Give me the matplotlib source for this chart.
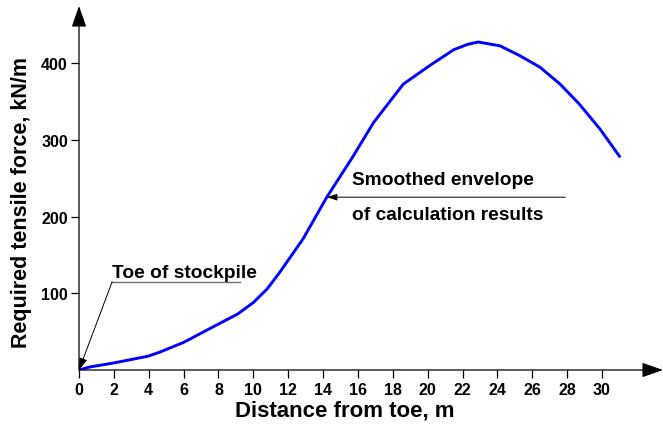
import matplotlib
matplotlib.use("Agg")
import matplotlib.pyplot as plt

plt.rcParams['font.family'] = ['Liberation Sans', 'DejaVu Sans']
plt.rcParams['font.weight'] = 'bold'

# smoothed envelope
distance = [0, 0.63, 1.95, 3.96, 4.6, 6.0, 8.0, 9.1, 10.0, 10.8, 11.5, 12.85, 14.2,
            15.7, 16.9, 18.6, 20.1, 21.5, 22.3, 22.9, 24.15, 25.3, 26.45, 27.6,
            28.7, 29.9, 31.0]
force = [0, 4, 9, 18, 23, 36, 60, 73, 88, 106, 127, 171, 225,
         278, 323, 373, 397, 418, 425, 428, 423, 410, 395, 373,
         347, 314, 279]

x_ticks = list(range(0, 31, 2))
y_ticks = [100, 200, 300, 400]

fig = plt.figure(figsize=(6.63, 4.27), dpi=100)
ax = fig.add_axes([79 / 663, 56 / 427, (663 - 79) / 663, (371 - 7) / 427])

ax.plot(distance, force, color='#0000ff', lw=2.1, solid_joinstyle='round')

ax.set_xlim(0, 33.5)
ax.set_ylim(0, 475)

for s in ax.spines.values():
    s.set_visible(False)

# axes drawn as arrows
head = dict(arrowstyle='-|>,head_length=1.0,head_width=0.35', color='k', lw=0.9,
            mutation_scale=13, shrinkA=0, shrinkB=0)
ax.annotate('', xy=(1, 0), xytext=(0, 0), xycoords='axes fraction', arrowprops=head,
            annotation_clip=False)
ax.annotate('', xy=(0, 1), xytext=(0, 0), xycoords='axes fraction', arrowprops=head,
            annotation_clip=False)

ax.set_xticks(x_ticks)
ax.set_yticks(y_ticks)
ax.tick_params(axis='both', direction='out', length=6, width=0.9, labelsize=11.5)
ax.tick_params(axis='x', pad=3)
ax.tick_params(axis='y', pad=2)
for lab in ax.get_xticklabels() + ax.get_yticklabels():
    lab.set_fontweight('bold')

fig.text(22 / 663, 1 - 203 / 427, 'Required tensile force, kN/m', rotation=90,
         ha='center', va='center', fontsize=15.5, fontweight='bold')
fig.text(345 / 663, 1 - 411 / 427, 'Distance from toe, m',
         ha='center', va='center', fontsize=16, fontweight='bold')

# toe annotation
ax.text(1.9, 121, 'Toe of stockpile', fontsize=13.8, fontweight='bold', va='baseline')
ax.plot([1.9, 9.24], [115, 115], color='#707070', lw=1.0)
ax.annotate('', xy=(0, 0), xytext=(1.9, 115),
            arrowprops=dict(arrowstyle='-|>,head_length=0.6,head_width=0.2', color='k',
                            lw=0.7, mutation_scale=12, shrinkA=0, shrinkB=0))

# envelope annotation
ax.text(15.66, 243, 'Smoothed envelope', fontsize=13.8, fontweight='bold', va='baseline')
ax.text(15.66, 197, 'of calculation results', fontsize=13.8, fontweight='bold', va='baseline')
ax.annotate('', xy=(14.23, 225.5), xytext=(27.9, 225.5),
            arrowprops=dict(arrowstyle='-|>,head_length=0.6,head_width=0.2', color='k',
                            lw=0.7, mutation_scale=10, shrinkA=0, shrinkB=0))

fig.savefig('out.png', dpi=100)
